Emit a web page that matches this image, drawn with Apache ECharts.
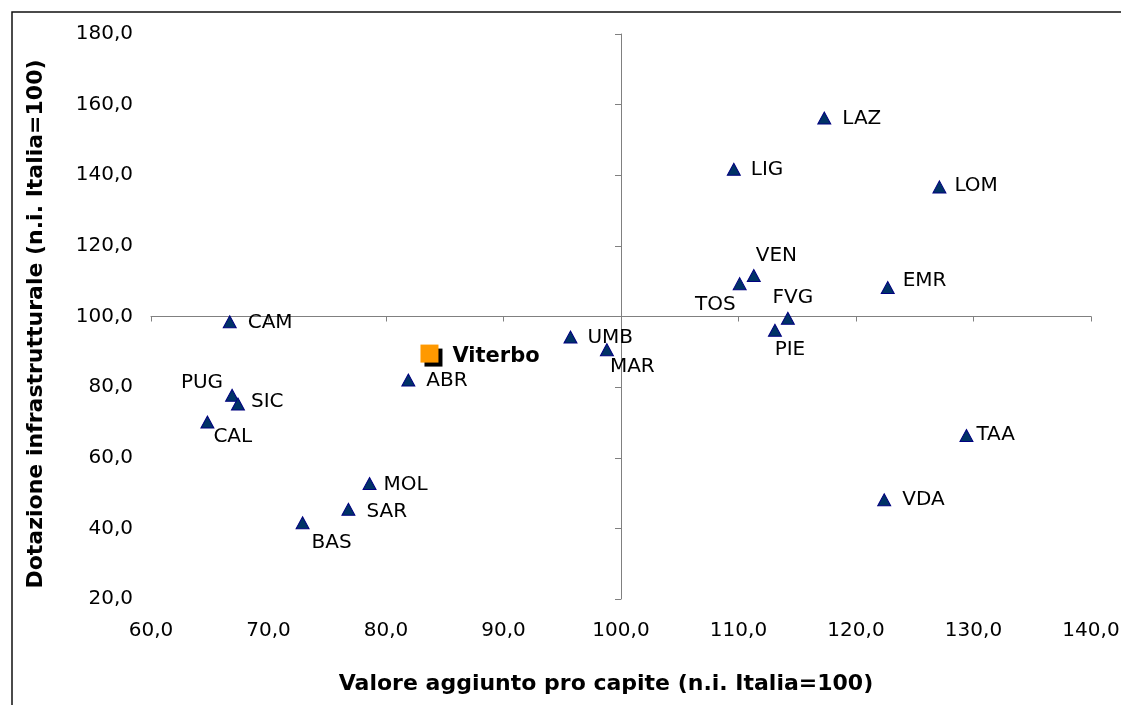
<!DOCTYPE html>
<html>
<head>
    <meta charset="utf-8">
    <title>Valore aggiunto e dotazione infrastrutturale</title>
    <script src="https://cdn.jsdelivr.net/npm/echarts@6/dist/echarts.min.js"></script>
    <style>
        html, body { margin: 0; padding: 0; background: #fff; }
        #main { width: 1121px; height: 705px; }
    </style>
</head>
<body>
<div id="main"></div>
<script>
    // regioni (n.i. Italia=100)
    var regioni = ['LAZ', 'LIG', 'LOM', 'VEN', 'TOS', 'EMR', 'FVG', 'PIE', 'UMB', 'MAR', 'CAM',
        'ABR', 'PUG', 'SIC', 'CAL', 'TAA', 'VDA', 'MOL', 'SAR', 'BAS'];
    var valoreAggiunto = [117.3, 109.6, 127.1, 111.3, 110.1, 122.7, 114.2, 113.1, 95.7, 98.8, 66.7,
        81.9, 66.9, 67.4, 64.8, 129.4, 122.4, 78.6, 76.8, 72.9];
    var dotazione = [156.2, 141.7, 136.7, 111.6, 109.3, 108.2, 99.5, 96.1, 94.2, 90.6, 98.5,
        82.0, 77.7, 75.2, 70.1, 66.3, 48.1, 52.7, 45.4, 41.6];

    var provincia = ['Viterbo'];
    var provinciaX = [83.7];
    var provinciaY = [89.5];

    var xMin = 60, xMax = 140, xStep = 10;
    var yMin = 20, yMax = 180, yStep = 20;
    var asseX = 100, asseY = 100; // incrocio degli assi

    // posizione etichette: [align, dx, dy] rispetto al centro del simbolo
    var etichette = {
        LAZ: ['left', 18, 1], LIG: ['left', 17, 1], LOM: ['left', 15, -1],
        VEN: ['left', 2, -20], TOS: ['right', -4, 21], EMR: ['left', 15, -7],
        FVG: ['center', 5, -20], PIE: ['center', 15, 20], UMB: ['left', 17, 1],
        MAR: ['left', 3, 17], CAM: ['left', 18, 1], ABR: ['left', 18, 1],
        PUG: ['right', -9, -12], SIC: ['left', 13, -2], CAL: ['left', 6, 15],
        TAA: ['left', 10, -1], VDA: ['left', 18, 0], MOL: ['left', 14, 1],
        SAR: ['left', 18, 2], BAS: ['left', 9, 20]
    };

    var font = 'DejaVu Sans';
    var fmt = function (v) { return v.toFixed(1).replace('.', ','); };

    var puntiRegioni = regioni.map(function (r, i) {
        var e = etichette[r];
        return {
            name: r,
            value: [valoreAggiunto[i], dotazione[i]],
            label: { align: e[0], offset: [e[1], e[2]] }
        };
    });
    var puntiProvincia = provincia.map(function (p, i) {
        return { name: p, value: [provinciaX[i], provinciaY[i]] };
    });

    var myChart = echarts.init(document.getElementById('main'));
    var option = {
        backgroundColor: '#fff',
        animation: false,
        grid: { left: 151, right: 30, top: 34, bottom: 106, outerBoundsMode: 'none' },
        xAxis: [{
            type: 'value', min: xMin, max: xMax, interval: xStep,
            axisLine: { show: false }, axisTick: { show: false }, splitLine: { show: false },
            axisLabel: { formatter: fmt, fontSize: 20, color: '#000', fontFamily: font, margin: 22 }
        }, {
            type: 'value', min: xMin, max: xMax, interval: xStep, position: 'bottom',
            offset: -(asseY - yMin) / (yMax - yMin) * 565,
            axisLine: { show: true, onZero: false, lineStyle: { color: '#808080', width: 1 } },
            axisTick: { show: true, length: 5, lineStyle: { color: '#808080' } },
            axisLabel: { show: false }, splitLine: { show: false }
        }],
        yAxis: [{
            type: 'value', min: yMin, max: yMax, interval: yStep,
            axisLine: { show: false }, axisTick: { show: false }, splitLine: { show: false },
            axisLabel: { formatter: fmt, fontSize: 20, color: '#000', fontFamily: font, margin: 18 }
        }, {
            type: 'value', min: yMin, max: yMax, interval: yStep, position: 'left',
            offset: -(asseX - xMin) / (xMax - xMin) * 940,
            axisLine: { show: true, onZero: false, lineStyle: { color: '#808080', width: 1 } },
            axisTick: { show: true, length: 6, lineStyle: { color: '#808080' } },
            axisLabel: { show: false }, splitLine: { show: false }
        }],
        series: [{
            name: 'Regioni',
            type: 'scatter',
            xAxisIndex: 0, yAxisIndex: 0,
            symbol: 'triangle',
            symbolSize: [13, 12],
            itemStyle: { color: '#003366', borderColor: '#000080', borderWidth: 1, opacity: 1 },
            label: {
                show: true, position: 'inside', verticalAlign: 'middle',
                formatter: '{b}', fontSize: 20, color: '#000', fontFamily: font
            },
            data: puntiRegioni
        }, {
            // ombra del quadrato
            name: 'ombra',
            type: 'scatter',
            xAxisIndex: 0, yAxisIndex: 0,
            symbol: 'rect', symbolSize: 18, symbolOffset: [4, 4],
            itemStyle: { color: '#000', opacity: 1 },
            silent: true,
            data: puntiProvincia
        }, {
            name: 'Provincia',
            type: 'scatter',
            xAxisIndex: 0, yAxisIndex: 0,
            symbol: 'rect', symbolSize: 18,
            itemStyle: { color: '#FF9900', opacity: 1 },
            label: {
                show: true, position: 'inside', align: 'left', verticalAlign: 'middle',
                offset: [23, 3], formatter: '{b}', fontSize: 21, fontWeight: 'bold',
                color: '#000', fontFamily: font
            },
            data: puntiProvincia
        }],
        graphic: [{
            type: 'rect', z: -1,
            shape: { x: 12, y: 12, width: 1200, height: 800 },
            style: { fill: null, stroke: '#111', lineWidth: 1.5 }
        }, {
            type: 'text', x: 606, y: 684,
            style: {
                text: 'Valore aggiunto pro capite (n.i. Italia=100)',
                align: 'center', verticalAlign: 'middle',
                font: 'bold 22px "DejaVu Sans"', fill: '#000'
            }
        }, {
            type: 'text', x: 36, y: 324, rotation: Math.PI / 2,
            style: {
                text: 'Dotazione infrastrutturale (n.i. Italia=100)',
                align: 'center', verticalAlign: 'middle',
                font: 'bold 22px "DejaVu Sans"', fill: '#000'
            }
        }]
    };
    myChart.setOption(option);
</script>
</body>
</html>
